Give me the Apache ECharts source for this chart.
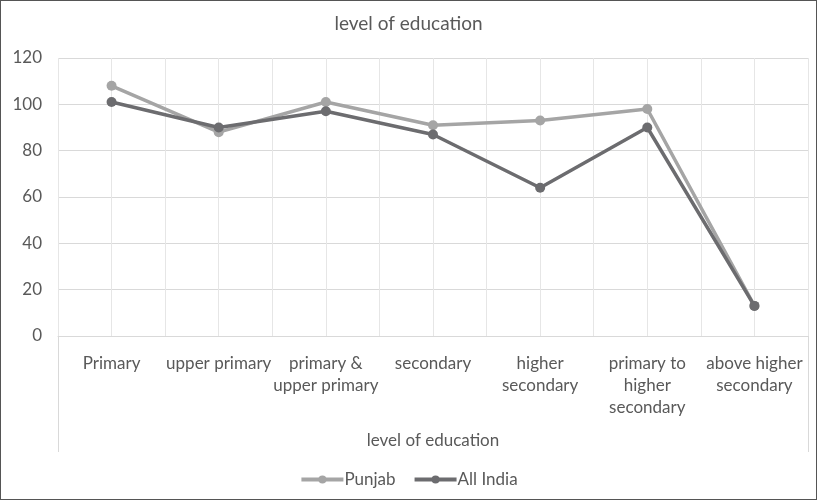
<!DOCTYPE html>
<html>
<head>
<meta charset="utf-8">
<script src="https://cdn.jsdelivr.net/npm/echarts@6/dist/echarts.min.js"></script>
<style>
  html, body { margin: 0; padding: 0; background: #fff; }
  #chart { width: 817px; height: 500px; box-sizing: border-box; border: 1px solid #555; }
</style>
</head>
<body>
<div id="chart"></div>
<script>
// Enrolment by level of education, Punjab vs All India
const categories = [
  'Primary',
  'upper primary',
  'primary &\nupper primary',
  'secondary',
  'higher\nsecondary',
  'primary to\nhigher\nsecondary',
  'above higher\nsecondary'
];
const punjab = [108, 88, 101, 91, 93, 98, 13];
const allIndia = [101, 90, 97, 87, 64, 90, 13];
const yTicks = { min: 0, max: 120, step: 20 };

const FONT = 'Lato';
const TEXT = '#595959';
const GRID = { left: 57, right: 8, top: 57, bottom: 163 };

const chart = echarts.init(document.getElementById('chart'), null, { renderer: 'canvas' });

const W = 815, H = 498; // inner size of the bordered container
const gl = GRID.left, gr = W - GRID.right, gb = H - GRID.bottom;

chart.setOption({
  animation: false,
  textStyle: { fontFamily: FONT, color: TEXT },
  title: {
    text: 'level of education',
    left: 'center',
    top: 8,
    textStyle: { fontFamily: FONT, fontWeight: 'normal', fontSize: 19, color: TEXT }
  },
  legend: {
    bottom: 6,
    left: 'center',
    itemWidth: 42,
    itemHeight: 10,
    itemGap: 17,
    lineStyle: { width: 4 },
    textStyle: { fontFamily: FONT, fontSize: 17, color: TEXT, padding: [0, 0, 0, -4] },
    data: ['Punjab', 'All India']
  },
  grid: { left: GRID.left, right: GRID.right, top: GRID.top, bottom: GRID.bottom, containLabel: false },
  xAxis: [
    {
      type: 'category',
      data: categories,
      boundaryGap: true,
      axisLine: { show: true, lineStyle: { color: '#d9d9d9', width: 1 } },
      axisTick: { show: false },
      splitLine: { show: false },
      axisLabel: {
        interval: 0,
        margin: 17,
        fontFamily: FONT,
        fontSize: 17,
        color: TEXT,
        lineHeight: 22,
        align: 'center',
        verticalAlign: 'top'
      },
      name: 'level of education',
      nameLocation: 'middle',
      nameGap: 96,
      nameTextStyle: { fontFamily: FONT, fontSize: 17, color: TEXT }
    },
    {
      // half-category gridlines
      type: 'value',
      min: 0,
      max: 14,
      interval: 1,
      show: true,
      position: 'top',
      axisLine: { show: false },
      axisTick: { show: false },
      axisLabel: { show: false },
      splitLine: { show: true, lineStyle: { color: '#e6e6e6', width: 1 } }
    }
  ],
  yAxis: {
    type: 'value',
    min: yTicks.min,
    max: yTicks.max,
    interval: yTicks.step,
    axisLine: { show: false },
    axisTick: { show: false },
    axisLabel: { fontFamily: FONT, fontSize: 17, color: TEXT, margin: 16 },
    splitLine: { lineStyle: { color: '#d9d9d9', width: 1 } }
  },
  graphic: [
    // side rules of the category label band
    { type: 'line', shape: { x1: gl + 0.5, y1: gb, x2: gl + 0.5, y2: gb + 116 }, style: { stroke: '#d9d9d9', lineWidth: 1 }, silent: true },
    { type: 'line', shape: { x1: gr + 0.5, y1: gb, x2: gr + 0.5, y2: gb + 116 }, style: { stroke: '#d9d9d9', lineWidth: 1 }, silent: true }
  ],
  series: [
    {
      name: 'Punjab',
      type: 'line',
      data: punjab,
      symbol: 'circle',
      symbolSize: 10,
      lineStyle: { color: '#a5a5a5', width: 3.5 },
      itemStyle: { color: '#a5a5a5' },
      z: 2
    },
    {
      name: 'All India',
      type: 'line',
      data: allIndia,
      symbol: 'circle',
      symbolSize: 10,
      lineStyle: { color: '#6c6c6f', width: 3.5 },
      itemStyle: { color: '#6c6c6f' },
      z: 3
    }
  ]
});
</script>
</body>
</html>
